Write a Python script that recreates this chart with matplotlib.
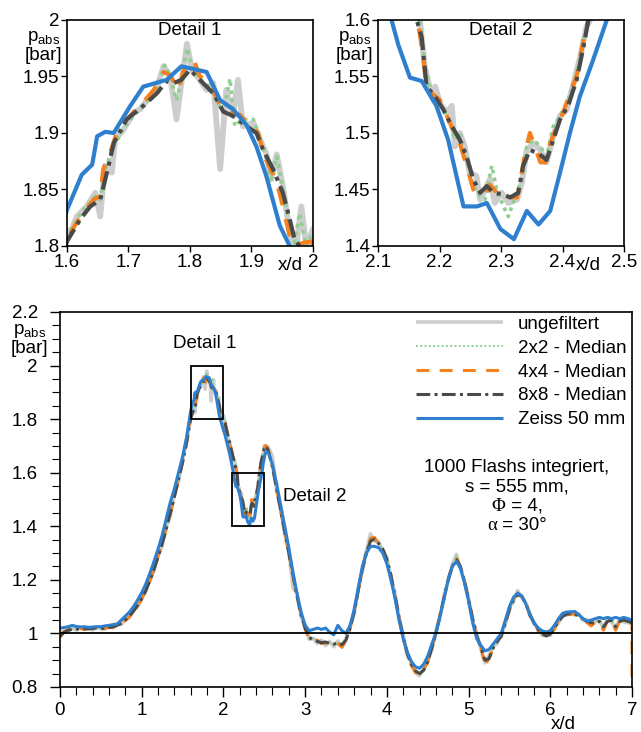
import numpy as np
import matplotlib
matplotlib.use('Agg')
import matplotlib.pyplot as plt
from matplotlib.patches import Rectangle
from matplotlib.ticker import MultipleLocator, FuncFormatter

plt.rcParams['font.family'] = ['Liberation Sans', 'DejaVu Sans']
plt.rcParams['mathtext.default'] = 'regular'
plt.rcParams['font.size'] = 13.5

# sample positions shared by all curves outside the two detail windows
X_LEFT = np.round(np.arange(0.0, 1.56, 0.05), 2)     # 0 ... 1.55
X_MID = [2.02, 2.05, 2.08, 2.11, 2.14]
X_PEAK = [2.46, 2.48, 2.50, 2.52]
X_RIGHT = np.round(np.arange(2.55, 7.001, 0.05), 2)  # 2.55 ... 7.0

# ---- ungefiltert ----
RAW_LEFT = [1.000, 1.010, 1.008, 1.020, 1.012, 1.022, 1.014, 1.023, 1.013, 1.024,
            1.017, 1.016, 1.026, 1.020, 1.034, 1.033, 1.055, 1.058, 1.090, 1.098,
            1.136, 1.155, 1.204, 1.232, 1.294, 1.326, 1.398, 1.440, 1.520, 1.568,
            1.646, 1.716]
RAW_D1_X = [1.600, 1.608, 1.616, 1.632, 1.646, 1.654, 1.662, 1.673, 1.678, 1.692,
            1.708, 1.719, 1.730, 1.746, 1.757, 1.768, 1.778, 1.786, 1.795, 1.803,
            1.816, 1.827, 1.838, 1.849, 1.859, 1.870, 1.878, 1.886, 1.903, 1.914,
            1.924, 1.932, 1.941, 1.951, 1.962, 1.972, 1.981, 1.989, 2.000]
RAW_D1_Y = [1.812, 1.815, 1.826, 1.835, 1.847, 1.826, 1.871, 1.865, 1.894, 1.903,
            1.918, 1.921, 1.929, 1.940, 1.959, 1.950, 1.912, 1.944, 1.979, 1.956,
            1.947, 1.938, 1.944, 1.868, 1.938, 1.915, 1.947, 1.906, 1.909, 1.894,
            1.882, 1.859, 1.881, 1.853, 1.812, 1.795, 1.835, 1.800, 1.815]
RAW_MID = [1.790, 1.740, 1.710, 1.662, 1.640]
RAW_D2_X = [2.168, 2.176, 2.185, 2.190, 2.193, 2.201, 2.212, 2.220, 2.225, 2.233,
            2.241, 2.249, 2.260, 2.266, 2.274, 2.282, 2.290, 2.301, 2.312, 2.326,
            2.334, 2.342, 2.353, 2.364, 2.374, 2.385, 2.396, 2.407, 2.418, 2.429,
            2.439, 2.445]
RAW_D2_Y = [1.600, 1.559, 1.538, 1.529, 1.541, 1.526, 1.518, 1.524, 1.488, 1.500,
            1.488, 1.465, 1.462, 1.441, 1.450, 1.459, 1.438, 1.447, 1.438, 1.441,
            1.456, 1.485, 1.491, 1.485, 1.474, 1.497, 1.515, 1.521, 1.544, 1.568,
            1.594, 1.600]
RAW_PEAK = [1.640, 1.660, 1.700, 1.695]
RAW_RIGHT = [1.695, 1.660, 1.535, 1.470, 1.370, 1.310, 1.170, 1.150, 1.060, 1.030,
             0.978, 0.982, 0.962, 0.975, 0.955, 0.970, 0.950, 0.972, 0.950, 0.982,
             1.030, 1.072, 1.168, 1.232, 1.310, 1.372, 1.344, 1.342, 1.306, 1.285,
             1.205, 1.150, 1.048, 0.995, 0.915, 0.892, 0.852, 0.842, 0.870, 0.900,
             0.938, 1.010, 1.058, 1.142, 1.194, 1.256, 1.295, 1.242, 1.188, 1.132,
             1.048, 0.998, 0.940, 0.890, 0.918, 0.952, 0.962, 0.998, 1.032, 1.098,
             1.118, 1.160, 1.135, 1.115, 1.075, 1.035, 1.022, 0.992, 0.996, 0.992,
             1.028, 1.038, 1.070, 1.068, 1.082, 1.068, 1.072, 1.048, 1.052, 1.032,
             1.044, 1.052, 1.018, 1.054, 1.042, 1.020, 1.054, 1.042, 1.040, 1.036]

# ---- 2x2 median ----
M2_LEFT = [0.995, 1.008, 1.010, 1.017, 1.014, 1.020, 1.016, 1.021, 1.015, 1.022,
           1.019, 1.018, 1.024, 1.022, 1.031, 1.036, 1.052, 1.060, 1.088, 1.100,
           1.133, 1.158, 1.200, 1.236, 1.290, 1.330, 1.395, 1.445, 1.515, 1.572,
           1.642, 1.720]
M2_D1_X = [1.600, 1.616, 1.632, 1.646, 1.654, 1.662, 1.676, 1.692, 1.708, 1.730,
           1.746, 1.759, 1.768, 1.778, 1.786, 1.795, 1.805, 1.819, 1.832, 1.843,
           1.854, 1.865, 1.873, 1.884, 1.903, 1.914, 1.924, 1.932, 1.941, 1.951,
           1.962, 1.970, 1.978, 1.989, 2.000]
M2_D1_Y = [1.807, 1.824, 1.835, 1.844, 1.841, 1.868, 1.888, 1.904, 1.915, 1.928,
           1.938, 1.960, 1.950, 1.929, 1.947, 1.975, 1.956, 1.946, 1.941, 1.929,
           1.918, 1.948, 1.906, 1.912, 1.912, 1.894, 1.879, 1.859, 1.879, 1.850,
           1.818, 1.803, 1.829, 1.800, 1.812]
M2_MID = [1.787, 1.748, 1.702, 1.670, 1.634]
M2_D2_X = [2.168, 2.176, 2.187, 2.195, 2.206, 2.217, 2.225, 2.233, 2.244, 2.255,
           2.266, 2.274, 2.285, 2.293, 2.304, 2.312, 2.323, 2.334, 2.342, 2.353,
           2.364, 2.374, 2.385, 2.396, 2.409, 2.423, 2.437, 2.442]
M2_D2_Y = [1.600, 1.559, 1.535, 1.529, 1.521, 1.509, 1.494, 1.500, 1.479, 1.453,
           1.444, 1.441, 1.471, 1.450, 1.435, 1.426, 1.444, 1.459, 1.488, 1.494,
           1.488, 1.479, 1.506, 1.515, 1.529, 1.553, 1.588, 1.600]
M2_PEAK = [1.632, 1.670, 1.688, 1.705]
M2_RIGHT = [1.690, 1.615, 1.548, 1.462, 1.376, 1.305, 1.215, 1.145, 1.065, 1.025,
            0.982, 0.978, 0.968, 0.970, 0.962, 0.966, 0.955, 0.968, 0.955, 0.978,
            1.025, 1.078, 1.162, 1.238, 1.302, 1.365, 1.348, 1.338, 1.312, 1.280,
            1.212, 1.145, 1.055, 0.990, 0.920, 0.888, 0.858, 0.845, 0.866, 0.898,
            0.942, 1.004, 1.062, 1.138, 1.198, 1.252, 1.290, 1.248, 1.192, 1.128,
            1.052, 0.994, 0.946, 0.895, 0.912, 0.948, 0.966, 0.994, 1.036, 1.094,
            1.122, 1.155, 1.138, 1.112, 1.072, 1.038, 1.018, 0.996, 0.992, 0.995,
            1.024, 1.042, 1.066, 1.070, 1.078, 1.070, 1.068, 1.052, 1.048, 1.036,
            1.040, 1.048, 1.020, 1.050, 1.046, 1.020, 1.050, 1.046, 1.042, 1.038]

# ---- 4x4 median ----
M4_LEFT = [0.985, 1.006, 1.014, 1.013, 1.016, 1.018, 1.015, 1.019, 1.016, 1.021,
           1.017, 1.019, 1.023, 1.024, 1.028, 1.040, 1.048, 1.063, 1.085, 1.103,
           1.128, 1.162, 1.195, 1.238, 1.288, 1.332, 1.392, 1.448, 1.512, 1.578,
           1.638, 1.712]
M4_D1_X = [1.600, 1.616, 1.627, 1.643, 1.654, 1.659, 1.670, 1.681, 1.697, 1.719,
           1.741, 1.757, 1.768, 1.781, 1.789, 1.797, 1.808, 1.816, 1.832, 1.849,
           1.865, 1.881, 1.897, 1.911, 1.919, 1.930, 1.941, 1.951, 1.962, 1.973,
           1.986, 1.997]
M4_D1_Y = [1.806, 1.821, 1.829, 1.841, 1.844, 1.868, 1.882, 1.900, 1.912, 1.924,
           1.938, 1.954, 1.951, 1.938, 1.954, 1.963, 1.962, 1.950, 1.944, 1.924,
           1.918, 1.916, 1.907, 1.900, 1.882, 1.869, 1.857, 1.835, 1.809, 1.801,
           1.803, 1.804]
M4_MID = [1.783, 1.742, 1.706, 1.665, 1.630]
M4_D2_X = [2.163, 2.168, 2.174, 2.179, 2.190, 2.201, 2.212, 2.222, 2.233, 2.244,
           2.255, 2.266, 2.277, 2.282, 2.290, 2.301, 2.315, 2.326, 2.331, 2.339,
           2.347, 2.355, 2.364, 2.372, 2.380, 2.391, 2.401, 2.412, 2.423, 2.434,
           2.442]
M4_D2_Y = [1.600, 1.588, 1.565, 1.538, 1.534, 1.529, 1.515, 1.503, 1.491, 1.471,
           1.450, 1.446, 1.447, 1.454, 1.449, 1.444, 1.443, 1.443, 1.456, 1.482,
           1.500, 1.488, 1.474, 1.474, 1.491, 1.506, 1.518, 1.535, 1.550, 1.582,
           1.600]
M4_PEAK = [1.638, 1.668, 1.695, 1.702]
M4_RIGHT = [1.685, 1.625, 1.545, 1.455, 1.385, 1.295, 1.225, 1.135, 1.075, 1.015,
            0.980, 0.970, 0.975, 0.962, 0.965, 0.960, 0.958, 0.962, 0.948, 0.972,
            1.018, 1.085, 1.155, 1.245, 1.305, 1.355, 1.358, 1.332, 1.318, 1.272,
            1.220, 1.135, 1.065, 0.980, 0.930, 0.880, 0.855, 0.848, 0.865, 0.892,
            0.948, 0.998, 1.070, 1.130, 1.205, 1.248, 1.285, 1.245, 1.200, 1.120,
            1.060, 0.985, 0.955, 0.878, 0.910, 0.940, 0.975, 0.988, 1.045, 1.085,
            1.130, 1.150, 1.135, 1.115, 1.065, 1.045, 1.010, 1.002, 0.985, 1.000,
            1.015, 1.050, 1.060, 1.075, 1.070, 1.075, 1.060, 1.058, 1.040, 1.028,
            1.042, 1.040, 1.012, 1.048, 1.045, 1.012, 1.048, 1.045, 1.050, 1.040]
M4_END_X = [7.0]
M4_END_Y = [0.79]

# ---- 8x8 median ----
M8_LEFT = [0.990, 1.004, 1.012, 1.015, 1.017, 1.016, 1.018, 1.017, 1.019, 1.020,
           1.018, 1.020, 1.022, 1.025, 1.030, 1.038, 1.050, 1.065, 1.083, 1.105,
           1.130, 1.160, 1.197, 1.240, 1.285, 1.335, 1.390, 1.450, 1.510, 1.575,
           1.640, 1.715]
M8_D1_X = [1.600, 1.622, 1.638, 1.654, 1.665, 1.676, 1.697, 1.724, 1.746, 1.762,
           1.773, 1.786, 1.800, 1.816, 1.838, 1.854, 1.870, 1.892, 1.908, 1.919,
           1.935, 1.951, 1.962, 1.970, 1.978, 1.990, 2.000]
M8_D1_Y = [1.804, 1.824, 1.835, 1.841, 1.865, 1.891, 1.912, 1.924, 1.935, 1.946,
           1.944, 1.947, 1.956, 1.947, 1.935, 1.919, 1.915, 1.906, 1.900, 1.885,
           1.868, 1.847, 1.824, 1.806, 1.800, 1.797, 1.795]
M8_MID = [1.785, 1.745, 1.705, 1.668, 1.632]
M8_D2_X = [2.163, 2.171, 2.179, 2.193, 2.206, 2.220, 2.233, 2.244, 2.255, 2.266,
           2.277, 2.288, 2.301, 2.315, 2.328, 2.336, 2.347, 2.361, 2.374, 2.385,
           2.396, 2.409, 2.423, 2.434, 2.442]
M8_D2_Y = [1.600, 1.585, 1.541, 1.532, 1.521, 1.506, 1.494, 1.479, 1.459, 1.447,
           1.453, 1.447, 1.446, 1.443, 1.447, 1.471, 1.485, 1.482, 1.476, 1.494,
           1.512, 1.524, 1.547, 1.576, 1.600]
M8_PEAK = [1.635, 1.665, 1.690, 1.700]
M8_RIGHT = [1.680, 1.620, 1.540, 1.460, 1.380, 1.300, 1.220, 1.140, 1.070, 1.020,
            0.985, 0.975, 0.970, 0.965, 0.968, 0.962, 0.960, 0.965, 0.958, 0.975,
            1.020, 1.080, 1.160, 1.240, 1.300, 1.345, 1.352, 1.335, 1.315, 1.275,
            1.215, 1.140, 1.060, 0.985, 0.925, 0.885, 0.860, 0.850, 0.862, 0.895,
            0.945, 1.000, 1.065, 1.135, 1.200, 1.250, 1.275, 1.250, 1.195, 1.125,
            1.055, 0.990, 0.950, 0.900, 0.905, 0.945, 0.970, 0.990, 1.040, 1.090,
            1.125, 1.145, 1.140, 1.110, 1.070, 1.040, 1.015, 1.000, 0.990, 0.998,
            1.020, 1.045, 1.063, 1.072, 1.074, 1.072, 1.065, 1.055, 1.045, 1.040,
            1.038, 1.045, 1.025, 1.045, 1.050, 1.025, 1.045, 1.050, 1.045, 1.040]

# ---- Zeiss 50 mm ----
ZEISS_LEFT = [1.020, 1.022, 1.025, 1.030, 1.026, 1.024, 1.025, 1.022, 1.024, 1.025,
              1.025, 1.028, 1.030, 1.033, 1.035, 1.050, 1.065, 1.080, 1.100, 1.125,
              1.152, 1.185, 1.225, 1.268, 1.315, 1.366, 1.428, 1.490, 1.540, 1.600,
              1.660, 1.735]
ZEISS_D1_X = [1.600, 1.624, 1.641, 1.649, 1.662, 1.676, 1.703, 1.724, 1.762, 1.786,
              1.827, 1.849, 1.870, 1.892, 1.908, 1.924, 1.946, 1.962]
ZEISS_D1_Y = [1.832, 1.863, 1.872, 1.897, 1.901, 1.900, 1.924, 1.941, 1.947, 1.959,
              1.954, 1.929, 1.921, 1.907, 1.888, 1.862, 1.818, 1.800]
ZEISS_MID_X = [1.980, 2.000, 2.020, 2.040, 2.060, 2.080, 2.100]
ZEISS_MID_Y = [1.780, 1.760, 1.740, 1.715, 1.690, 1.665, 1.635]
ZEISS_D2_X = [2.122, 2.133, 2.152, 2.171, 2.195, 2.214, 2.239, 2.261, 2.277, 2.299,
              2.321, 2.342, 2.361, 2.380, 2.396, 2.412, 2.428, 2.450, 2.472]
ZEISS_D2_Y = [1.600, 1.578, 1.549, 1.546, 1.524, 1.494, 1.435, 1.435, 1.438, 1.415,
              1.406, 1.431, 1.419, 1.431, 1.465, 1.500, 1.532, 1.565, 1.600]
ZEISS_PEAK_X = [2.490, 2.510, 2.530]
ZEISS_PEAK_Y = [1.640, 1.670, 1.678]
ZEISS_RIGHT = [1.675, 1.630, 1.560, 1.480, 1.400, 1.320, 1.230, 1.150, 1.080, 1.030,
               1.010, 1.015, 1.020, 1.015, 1.020, 1.005, 0.995, 1.030, 1.010, 1.000,
               1.030, 1.090, 1.170, 1.250, 1.300, 1.325, 1.325, 1.320, 1.300, 1.260,
               1.200, 1.130, 1.050, 0.980, 0.930, 0.895, 0.875, 0.870, 0.885, 0.915,
               0.960, 1.000, 1.065, 1.130, 1.200, 1.250, 1.268, 1.245, 1.190, 1.120,
               1.040, 0.980, 0.955, 0.935, 0.940, 0.960, 0.980, 1.000, 1.050, 1.100,
               1.135, 1.150, 1.140, 1.110, 1.070, 1.040, 1.020, 1.010, 1.005, 1.010,
               1.030, 1.055, 1.075, 1.080, 1.080, 1.082, 1.070, 1.055, 1.045, 1.050,
               1.055, 1.060, 1.055, 1.060, 1.055, 1.060, 1.055, 1.060, 1.055, 1.050]


def join(*parts):
    return np.concatenate([np.asarray(p, dtype=float) for p in parts])


raw_x = join(X_LEFT, RAW_D1_X, X_MID, RAW_D2_X, X_PEAK, X_RIGHT)
raw_y = join(RAW_LEFT, RAW_D1_Y, RAW_MID, RAW_D2_Y, RAW_PEAK, RAW_RIGHT)
m2_x = join(X_LEFT, M2_D1_X, X_MID, M2_D2_X, X_PEAK, X_RIGHT)
m2_y = join(M2_LEFT, M2_D1_Y, M2_MID, M2_D2_Y, M2_PEAK, M2_RIGHT)
m4_x = join(X_LEFT, M4_D1_X, X_MID, M4_D2_X, X_PEAK, X_RIGHT, M4_END_X)
m4_y = join(M4_LEFT, M4_D1_Y, M4_MID, M4_D2_Y, M4_PEAK, M4_RIGHT, M4_END_Y)
m8_x = join(X_LEFT, M8_D1_X, X_MID, M8_D2_X, X_PEAK, X_RIGHT)
m8_y = join(M8_LEFT, M8_D1_Y, M8_MID, M8_D2_Y, M8_PEAK, M8_RIGHT)
zeiss_x = join(X_LEFT, ZEISS_D1_X, ZEISS_MID_X, ZEISS_D2_X, ZEISS_PEAK_X, X_RIGHT)
zeiss_y = join(ZEISS_LEFT, ZEISS_D1_Y, ZEISS_MID_Y, ZEISS_D2_Y, ZEISS_PEAK_Y, ZEISS_RIGHT)

# label, x, y, style, line width in the zoomed panels
CURVES = [
    ('ungefiltert', raw_x, raw_y, dict(color='#cdcdcd', ls='-', lw=2.6), 4.2),
    ('2x2 - Median', m2_x, m2_y, dict(color='#8fcf8f', ls=(0, (1, 1.2)), lw=1.4), 2.6),
    ('4x4 - Median', m4_x, m4_y, dict(color='#f5801e', ls=(0, (4.2, 3.4)), lw=2.2), 3.0),
    ('8x8 - Median', m8_x, m8_y, dict(color='#4a4a4a', ls=(0, (4.5, 1.4, 1, 1.4)), lw=2.2), 3.0),
    ('Zeiss 50 mm', zeiss_x, zeiss_y, dict(color='#2f7fcf', ls='-', lw=2.2), 3.0),
]

fmt = FuncFormatter(lambda v, p: f'{v:g}')


def draw_curves(ax, zoomed=False):
    for label, x, y, st, lw_zoom in CURVES:
        st = dict(st)
        if zoomed:
            st['lw'] = lw_zoom
        ax.plot(x, y, label=label, solid_capstyle='butt', dash_capstyle='butt', **st)


def style_detail(ax, xticks, yticks, title, xd_pos):
    ax.set_xlim(xticks[0], xticks[-1])
    ax.set_ylim(yticks[0], yticks[-1])
    ax.set_xticks(xticks)
    ax.set_yticks(yticks)
    ax.xaxis.set_major_formatter(fmt)
    ax.yaxis.set_major_formatter(fmt)
    ax.tick_params(direction='out', length=4, width=1, labelsize=13.5, pad=1.5)
    for s in ax.spines.values():
        s.set_linewidth(1.2)
    ax.text(0.5, 0.955, title, transform=ax.transAxes, ha='center', va='center')
    ax.text(xd_pos, -0.085, 'x/d', transform=ax.transAxes, ha='center', va='center')
    ax.text(-0.02, 0.958, '$p_{abs}$\n[bar]', transform=ax.transAxes,
            ha='right', va='top', multialignment='center', linespacing=0.95)


fig = plt.figure(figsize=(6.41, 7.32), dpi=100)

ax1 = fig.add_axes([0.1045, 0.664, 0.3838, 0.3087])
draw_curves(ax1, zoomed=True)
style_detail(ax1, [1.6, 1.7, 1.8, 1.9, 2.0], [1.8, 1.85, 1.9, 1.95, 2.0], 'Detail 1', 0.906)

ax2 = fig.add_axes([0.5897, 0.664, 0.3838, 0.3087])
draw_curves(ax2, zoomed=True)
style_detail(ax2, [2.1, 2.2, 2.3, 2.4, 2.5], [1.4, 1.45, 1.5, 1.55, 1.6], 'Detail 2', 0.854)

# overview
ax = fig.add_axes([0.0936, 0.0615, 0.8924, 0.5123])
draw_curves(ax)
ax.axhline(1.0, color='black', lw=1.3, zorder=5)
ax.add_patch(Rectangle((1.6, 1.8), 0.4, 0.2, fill=False, ec='black', lw=1.3, zorder=6))
ax.add_patch(Rectangle((2.1, 1.4), 0.4, 0.2, fill=False, ec='black', lw=1.3, zorder=6))
ax.text(1.77, 2.084, 'Detail 1', ha='center', va='center')
ax.text(2.73, 1.51, 'Detail 2', ha='left', va='center')

ax.set_xlim(0, 7)
ax.set_ylim(0.8, 2.2)
ax.xaxis.set_major_locator(MultipleLocator(1))
ax.xaxis.set_minor_locator(MultipleLocator(0.2))
ax.yaxis.set_major_locator(MultipleLocator(0.2))
ax.yaxis.set_minor_locator(MultipleLocator(0.05))
ax.xaxis.set_major_formatter(fmt)
ax.yaxis.set_major_formatter(fmt)
ax.tick_params(which='major', direction='out', length=7, width=1, labelsize=13.5)
ax.tick_params(which='minor', direction='out', length=6, width=0.8)
ax.tick_params(axis='y', which='major', pad=9)
for s in ax.spines.values():
    s.set_linewidth(1.2)
ax.text(0.88, -0.1, 'x/d', transform=ax.transAxes, ha='center', va='center')
ax.text(-0.02, 0.972, '$p_{abs}$\n[bar]', transform=ax.transAxes,
        ha='right', va='top', multialignment='center', linespacing=0.95)

ax.legend(loc='upper right', bbox_to_anchor=(0.99, 0.99), frameon=False,
          handlelength=4.6, handletextpad=0.8, labelspacing=0.36,
          borderaxespad=0, borderpad=0, fontsize=13.5)

# run conditions
ax.text(5.59, 1.621, '1000 Flashs integriert,', ha='center', va='center')
ax.text(5.59, 1.546, 's = 555 mm,', ha='center', va='center')
ax.text(5.453, 1.475, 'Φ', ha='right', va='center', family='Liberation Serif')
ax.text(5.453, 1.475, ' = 4,', ha='left', va='center')
ax.text(5.349, 1.401, 'α', ha='right', va='center', family='Liberation Serif')
ax.text(5.349, 1.401, ' = 30°', ha='left', va='center')

fig.savefig('out.png', dpi=100)
